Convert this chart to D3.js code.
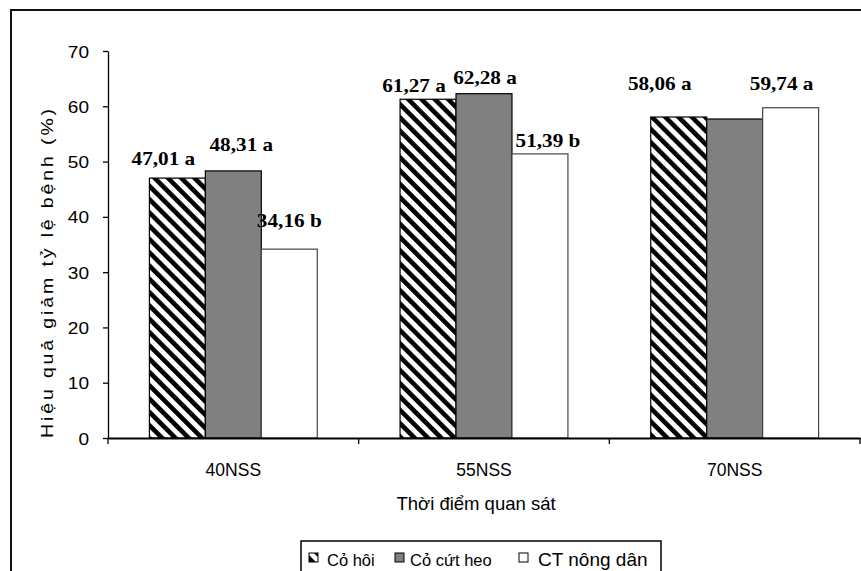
<!DOCTYPE html>
<html>
<head>
<meta charset="utf-8">
<script src="https://cdn.jsdelivr.net/npm/d3@7"></script>
<style>
  html, body { margin: 0; padding: 0; background: #fff; }
  svg { display: block; }
  text { font-family: "Liberation Sans", Arial, sans-serif; fill: #000; }
</style>
</head>
<body>
<svg id="chart" width="861" height="571"></svg>
<script>
// Observation times
const categories = ["40NSS", "55NSS", "70NSS"];
// Treatments
const seriesNames = ["Cỏ hôi", "Cỏ cứt heo", "CT nông dân"];
// Reduction efficiency (%) per treatment, one value per observation time
const coHoi = [47.01, 61.27, 58.06];
const coCutHeo = [48.31, 62.28, 57.7];
const ctNongDan = [34.16, 51.39, 59.74];
// Statistical grouping letters (null = not printed)
const lettersCoHoi = ["a", "a", "a"];
const lettersCoCutHeo = ["a", "a", null];
const lettersCtNongDan = ["b", "b", "a"];
const yTicks = [0, 10, 20, 30, 40, 50, 60, 70];

const seriesValues = [coHoi, coCutHeo, ctNongDan];
const seriesLetters = [lettersCoHoi, lettersCoCutHeo, lettersCtNongDan];
const seriesFill = ["url(#hatch)", "#808080", "#ffffff"];
const seriesStroke = ["#000", "#000", "#444"];

// Label nudges [dx, dy above bar top], indexed [series][category]
const labelNudge = [
  [[-14, 13], [-14, 7], [-19, 27]],
  [[8, 20], [1, 10], [0, 10]],
  [[0, 22], [8, 7], [-9, 18]]
];

const svg = d3.select("#chart");
const defs = svg.append("defs");
const pat = defs.append("pattern")
  .attr("id", "hatch")
  .attr("patternUnits", "userSpaceOnUse")
  .attr("width", 9.4).attr("height", 9.4)
  .attr("patternTransform", "rotate(-45)");
pat.append("rect").attr("width", 9.4).attr("height", 9.4).attr("fill", "#fff");
pat.append("rect").attr("width", 4.6).attr("height", 9.4).attr("fill", "#000");

// Outer frame (runs off the right and bottom edges)
svg.append("rect")
  .attr("x", 11).attr("y", 10).attr("width", 880).attr("height", 600)
  .attr("fill", "none").attr("stroke", "#111").attr("stroke-width", 2);

const plot = { left: 108, right: 860, top: 51, bottom: 438 };

const x = d3.scaleBand().domain(categories).range([plot.left, plot.right]).padding(0);
const xs = d3.scaleBand().domain(d3.range(seriesNames.length))
  .range([0, x.bandwidth()]).paddingInner(0).paddingOuter(0.74);
const y = d3.scaleLinear().domain([0, 70]).range([plot.bottom, plot.top]);

// Bars
const rows = [];
seriesValues.forEach((vals, s) => {
  vals.forEach((v, c) => rows.push({ s, c, v, letter: seriesLetters[s][c] }));
});

svg.append("g").selectAll("rect").data(rows).join("rect")
  .attr("x", d => x(categories[d.c]) + xs(d.s))
  .attr("y", d => y(d.v))
  .attr("width", xs.bandwidth())
  .attr("height", d => y(0) - y(d.v))
  .attr("fill", d => seriesFill[d.s])
  .attr("stroke", d => seriesStroke[d.s])
  .attr("stroke-width", 1.2);

// Value labels
svg.append("g").selectAll("text").data(rows.filter(d => d.letter)).join("text")
  .attr("transform", d => {
    const cx = x(categories[d.c]) + xs(d.s) + xs.bandwidth() / 2 + labelNudge[d.s][d.c][0];
    const cy = y(d.v) - labelNudge[d.s][d.c][1];
    return `translate(${cx},${cy}) scale(1.18,1)`;
  })
  .attr("text-anchor", "middle")
  .style("font-family", "'Liberation Serif', 'Times New Roman', serif")
  .style("font-weight", "bold")
  .style("font-size", "18px")
  .text(d => d3.format(".2f")(d.v).replace(".", ",") + " " + d.letter);

// Y axis
const yAxis = svg.append("g")
  .attr("transform", `translate(${plot.left},0)`)
  .call(d3.axisLeft(y).tickValues(yTicks).tickSize(5).tickSizeOuter(0).tickFormat(d3.format("d")));
yAxis.select(".domain").attr("stroke", "#000").attr("stroke-width", 1.3);
yAxis.selectAll(".tick line").attr("stroke", "#000").attr("stroke-width", 1.3);
yAxis.selectAll(".tick text")
  .attr("x", 0).attr("dy", "0.36em")
  .attr("transform", "translate(-19,0) scale(1.12,1)")
  .style("font-size", "17px").style("font-family", "'Liberation Sans', Arial, sans-serif");

// X axis
const xAxis = svg.append("g")
  .attr("transform", `translate(0,${plot.bottom})`)
  .call(d3.axisBottom(x).tickSize(0).tickSizeOuter(0));
xAxis.select(".domain").attr("stroke", "#000").attr("stroke-width", 2);
xAxis.selectAll(".tick text")
  .attr("y", 38).attr("dy", 0)
  .style("font-size", "17.5px").style("font-family", "'Liberation Sans', Arial, sans-serif");
// Category separator ticks
svg.append("g").selectAll("line")
  .data(categories.map(c => x(c)).concat([x(categories[categories.length - 1]) + x.bandwidth()]))
  .join("line")
  .attr("x1", d => d).attr("x2", d => d)
  .attr("y1", plot.bottom).attr("y2", plot.bottom + 6)
  .attr("stroke", "#000").attr("stroke-width", 1.3);

// Axis titles
svg.append("text")
  .attr("x", 476).attr("y", 510)
  .attr("text-anchor", "middle")
  .style("font-size", "18.5px")
  .text("Thời điểm quan sát");

svg.append("text")
  .attr("transform", `translate(53,272) rotate(-90)`)
  .attr("text-anchor", "middle")
  .attr("textLength", 332)
  .attr("lengthAdjust", "spacingAndGlyphs")
  .style("font-size", "17px")
  .style("letter-spacing", "2.5px")
  .text("Hiệu quả giảm tỷ lệ bệnh (%)");

// Legend
const legend = svg.append("g");
legend.append("rect")
  .attr("x", 301).attr("y", 541).attr("width", 360).attr("height", 50)
  .attr("fill", "#fff").attr("stroke", "#000").attr("stroke-width", 1.5);
const legendX = [309, 395, 519];
const legendFont = ["16.5px", "16.5px", "19px"];
const legendGap = [18, 15, 19];
seriesNames.forEach((name, i) => {
  legend.append("rect")
    .attr("x", legendX[i]).attr("y", 553).attr("width", 9).attr("height", 9)
    .attr("fill", seriesFill[i]).attr("stroke", "#000").attr("stroke-width", 1);
  legend.append("text")
    .attr("x", legendX[i] + legendGap[i]).attr("y", 566)
    .style("font-size", legendFont[i])
    .text(name);
});
</script>
</body>
</html>
